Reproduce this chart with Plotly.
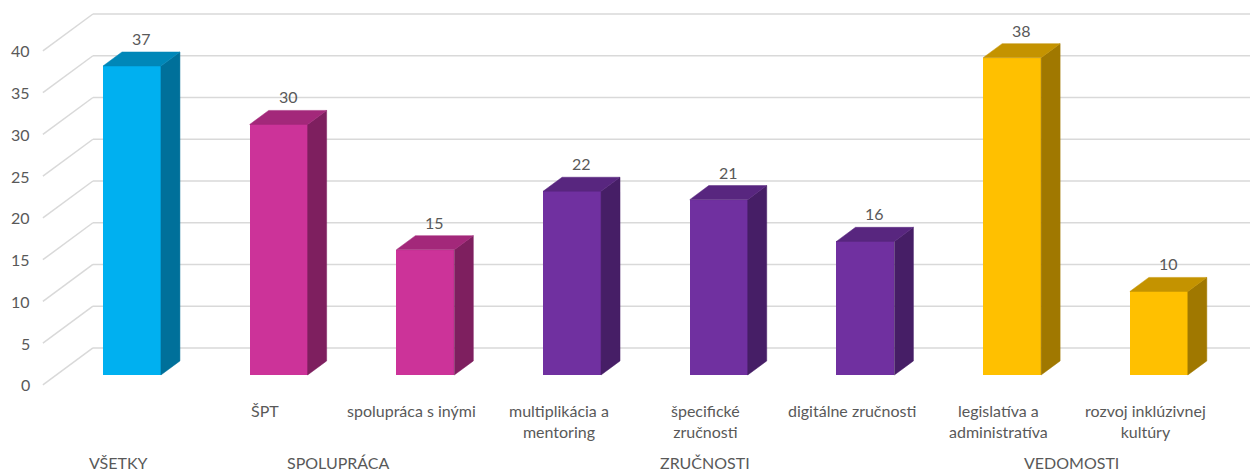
import plotly.graph_objects as go

# ---------------- data ----------------
values = [37, 30, 15, 22, 21, 16, 38, 10]
sub_labels = ["", "ŠPT", "spolupráca s inými", "multiplikácia a<br>mentoring",
              "špecifické<br>zručnosti", "digitálne zručnosti",
              "legislatíva a<br>administratíva", "rozvoj inklúzivnej<br>kultúry"]
groups = ["VŠETKY", "SPOLUPRÁCA", "ZRUČNOSTI", "VEDOMOSTI"]
group_sizes = [1, 2, 3, 2]
y_ticks = [0, 5, 10, 15, 20, 25, 30, 35, 40]

# colours per group: front, side, top
front_cols = ["#00B0F0", "#CC3399", "#7030A0", "#FFC000"]
side_cols = ["#00709A", "#7E1F5F", "#461E66", "#A07800"]
top_cols = ["#0087B8", "#A3287A", "#58267F", "#C49300"]

# ---------------- 3D projection constants (data units) ----------------
BAR_W = 0.395        # bar width in category units
DX = 0.341           # x shift for full depth of the box
DY = 4.43            # y shift for full depth of the box
D_BAR0 = 0.27        # depth of bar front plane
D_BAR1 = 0.65        # depth of bar back plane
WALL_X = -0.515      # left wall x (in front-plane coordinates)
X_MAX = 7.9


def proj(x, v, d):
    return x + (d - D_BAR0) * DX, v + (d - D_BAR0) * DY


fig = go.Figure()
shapes = []
grid_col = "#D9D9D9"

# back wall gridlines + left wall diagonals
for t in y_ticks:
    x0, y0 = proj(WALL_X, t, 0)
    x1, y1 = proj(WALL_X, t, 1)
    shapes.append(dict(type="line", xref="x", yref="y", x0=x0, y0=y0, x1=x1, y1=y1,
                       line=dict(color=grid_col, width=1.5), layer="below"))
    shapes.append(dict(type="line", xref="x", yref="y", x0=x1, y0=y1, x1=X_MAX, y1=y1,
                       line=dict(color=grid_col, width=1.5), layer="below"))

# bar group colour indices
col_idx = []
for gi, n in enumerate(group_sizes):
    col_idx += [gi] * n

xs = list(range(len(values)))

# front faces
fig.add_trace(go.Bar(
    x=xs, y=values, width=BAR_W,
    marker=dict(color=[front_cols[c] for c in col_idx], line=dict(width=0)),
    hoverinfo="skip", showlegend=False))

ox = (D_BAR1 - D_BAR0) * DX
oy = (D_BAR1 - D_BAR0) * DY
for i, v in enumerate(values):
    c = col_idx[i]
    xl, xr = i - BAR_W / 2, i + BAR_W / 2
    # side face
    fig.add_trace(go.Scatter(
        x=[xr, xr, xr + ox, xr + ox, xr], y=[0, v, v + oy, oy, 0],
        mode="lines", fill="toself", fillcolor=side_cols[c],
        line=dict(width=0.5, color=side_cols[c]), hoverinfo="skip", showlegend=False))
    # top face
    fig.add_trace(go.Scatter(
        x=[xl, xr, xr + ox, xl + ox, xl], y=[v, v, v + oy, v + oy, v],
        mode="lines", fill="toself", fillcolor=top_cols[c],
        line=dict(width=0.5, color=top_cols[c]), hoverinfo="skip", showlegend=False))

# value labels
annotations = []
font_main = dict(family="Lato, Open Sans, sans-serif", size=16, color="#595959")
for i, v in enumerate(values):
    annotations.append(dict(x=i + ox / 2, y=v + oy / 2, xref="x", yref="y",
                            text=str(v), showarrow=False, yanchor="bottom",
                            yshift=9, font=font_main))

# y tick labels on the front wall
for t in y_ticks:
    x0, y0 = proj(WALL_X, t, 0)
    annotations.append(dict(x=x0, y=y0, xref="x", yref="y", text=str(t),
                            showarrow=False, xanchor="right", xshift=-11,
                            font=font_main))

# category labels (front plane)
font_cat = dict(family="Lato, Open Sans, sans-serif", size=16, color="#595959")
for i, lab in enumerate(sub_labels):
    if not lab:
        continue
    x0, _ = proj(i, 0, 0)
    annotations.append(dict(x=x0, y=-2.9, xref="x", yref="y", text=lab,
                            showarrow=False, yanchor="top", font=font_cat))

start = 0
for g, n in zip(groups, group_sizes):
    mid = start + (n - 1) / 2
    x0, _ = proj(mid, 0, 0)
    annotations.append(dict(x=x0, y=-10.5, xref="x", yref="y", text=g,
                            showarrow=False, yanchor="middle", font=font_cat))
    start += n

# the page body adds an 8px margin, so the figure is 8px smaller
fig.update_layout(
    width=1250, height=464,
    margin=dict(l=0, r=0, t=0, b=0),
    paper_bgcolor="white", plot_bgcolor="white",
    xaxis=dict(range=[-0.845, 7.676], visible=False, fixedrange=True),
    yaxis=dict(range=[-11.62, 43.95], visible=False, fixedrange=True),
    shapes=shapes, annotations=annotations, bargap=0,
)

fig.write_html("out.html")
